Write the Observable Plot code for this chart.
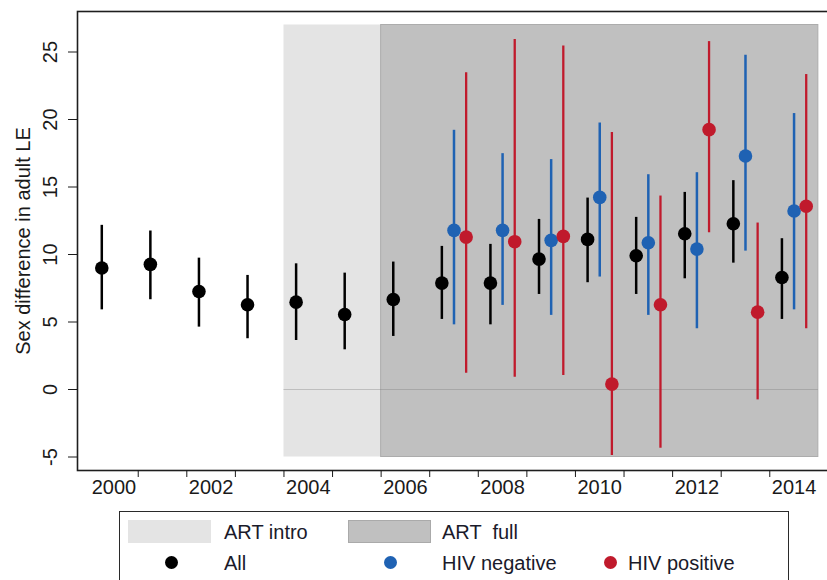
<!DOCTYPE html>
<html>
<head>
<meta charset="utf-8">
<script src="https://cdn.jsdelivr.net/npm/d3@7"></script>
<script src="https://cdn.jsdelivr.net/npm/@observablehq/plot@0.6"></script>
<style>
  html, body { margin: 0; padding: 0; background: #fff; }
  body { width: 827px; height: 580px; overflow: hidden; font-family: "Liberation Sans", Arial, sans-serif; }
  #chart svg { display: block; }
  #legend { position: relative; margin-left: 119px; margin-top: 11px; width: 670px; height: 90px;
            border: 1.5px solid #2a2a2a; box-sizing: border-box; background: #fff; }
  #legend .sw { position: absolute; top: 8px; width: 83px; height: 23px; }
  #legend .lab { position: absolute; font-size: 20px; color: #1a1a2a; white-space: pre; line-height: 20px; }
  #legend .dot { position: absolute; width: 13px; height: 13px; border-radius: 50%; }
</style>
</head>
<body>
<div id="chart"></div>
<div id="legend"></div>
<script>
// ---- data ----
const years = [2000, 2001, 2002, 2003, 2004, 2005, 2006, 2007, 2008, 2009, 2010, 2011, 2012, 2013, 2014];
const allEst = [9.0, 9.27, 7.26, 6.28, 6.47, 5.56, 6.67, 7.88, 7.88, 9.66, 11.12, 9.91, 11.54, 12.28, 8.3];
const allLo  = [5.9, 6.65, 4.62, 3.76, 3.63, 2.94, 3.93, 5.19, 4.79, 7.04, 7.91, 7.04, 8.2, 9.36, 5.19];
const allHi  = [12.16, 11.74, 9.73, 8.45, 9.31, 8.62, 9.44, 10.6, 10.75, 12.6, 14.18, 12.75, 14.6, 15.47, 11.17];

const hivYears = [2007, 2008, 2009, 2010, 2011, 2012, 2013, 2014];
const negEst = [11.79, 11.79, 11.05, 14.23, 10.87, 10.4, 17.3, 13.22];
const negLo  = [4.79, 6.23, 5.49, 8.33, 5.49, 4.5, 10.25, 5.9];
const negHi  = [19.2, 17.47, 17.03, 19.74, 15.91, 16.06, 24.76, 20.44];
const posEst = [11.29, 10.95, 11.34, 0.4, 6.28, 19.25, 5.73, 13.57];
const posLo  = [1.21, 0.91, 1.04, -4.89, -4.35, 11.61, -0.77, 4.5];
const posHi  = [23.47, 25.92, 25.45, 19.03, 14.33, 25.77, 12.33, 23.33];

const phaseLabels = ["ART intro", "ART full"];
const phaseStart = [2003.5, 2005.5];
const phaseEnd = [2005.5, 2014.5];
const phaseBottom = -5;
const phaseTop = 27;

const yTicks = [-5, 0, 5, 10, 15, 20, 25];
const xLabelYears = [2000, 2002, 2004, 2006, 2008, 2010, 2012, 2014];
const xTickPositions = [2000.5, 2001.5, 2002.5, 2003.5, 2004.5, 2005.5, 2006.5, 2007.5, 2008.5, 2009.5, 2010.5, 2011.5, 2012.5, 2013.5];

const seriesNames = ["All", "HIV negative", "HIV positive"];
const seriesColors = ["#000000", "#1f62b3", "#c01a2c"];
const seriesShift = [-0.25, 0, 0.25];

// ---- build tables ----
const phases = phaseLabels.map((label, i) => ({label, x1: phaseStart[i], x2: phaseEnd[i], y1: phaseBottom, y2: phaseTop}));
const allRows = years.map((yr, i) => ({series: "All", year: yr, est: allEst[i], lo: allLo[i], hi: allHi[i]}));
const negRows = hivYears.map((yr, i) => ({series: "HIV negative", year: yr, est: negEst[i], lo: negLo[i], hi: negHi[i]}));
const posRows = hivYears.map((yr, i) => ({series: "HIV positive", year: yr, est: posEst[i], lo: posLo[i], hi: posHi[i]}));
const groups = [allRows, negRows, posRows];

const font = "'Liberation Sans', Arial, sans-serif";

const marks = [
  Plot.rect(phases.slice(0, 1), {x1: "x1", x2: "x2", y1: "y1", y2: "y2", fill: "#e4e4e4"}),
  Plot.rect(phases.slice(1), {x1: "x1", x2: "x2", y1: "y1", y2: "y2", fill: "#c0c0c0", stroke: "#acacac", strokeWidth: 1}),
  Plot.ruleY([0], {x1: phaseStart[0], x2: phaseEnd[1], stroke: "#777", strokeOpacity: 0.35, strokeWidth: 1}),
  Plot.frame({stroke: "#1e1e1e", strokeWidth: 1.6}),
  Plot.axisY({ticks: yTicks, tickSize: 9, tickRotate: -90, tickPadding: 12, fontSize: 20, tickFormat: d => String(d),
              label: "Sex difference in adult LE", labelAnchor: "center", labelArrow: "none", labelOffset: 62}),
  Plot.axisX({ticks: xTickPositions, tickSize: 7, tickFormat: () => "", label: null}),
  Plot.axisX({ticks: xLabelYears, tickSize: 0, tickPadding: 9, tickFormat: d => String(d), fontSize: 20, label: null})
];

groups.forEach((rows, gi) => {
  const color = seriesColors[gi];
  const shift = seriesShift[gi];
  marks.push(Plot.ruleX(rows, {x: d => d.year + shift, y1: "lo", y2: "hi", stroke: color, strokeWidth: gi === 2 ? 2.3 : 2.5}));
  marks.push(Plot.dot(rows, {x: d => d.year + shift, y: "est", fill: color, r: 6.8}));
});

const chart = Plot.plot({
  width: 827,
  height: 500,
  marginLeft: 77,
  marginRight: -3,
  marginTop: 11,
  marginBottom: 30,
  style: {fontFamily: font, fontSize: "20px", color: "#1a1a1a", background: "#fff", overflow: "visible"},
  x: {domain: [1999.25, 2014.75]},
  y: {domain: [-6, 28]},
  marks
});
document.getElementById("chart").appendChild(chart);

// ---- legend ----
const legend = document.getElementById("legend");
function add(html) { legend.insertAdjacentHTML("beforeend", html); }
add(`<div class="sw" style="left:8px;background:#e4e4e4"></div>`);
add(`<div class="lab" style="left:104px;top:10px">${phaseLabels[0]}</div>`);
add(`<div class="sw" style="left:228px;background:#c0c0c0;border:1px solid #aaa;box-sizing:border-box"></div>`);
add(`<div class="lab" style="left:322px;top:10px">ART  full</div>`);
const dotLeft = [45, 264, 484];
const labLeft = [104, 322, 508];
seriesNames.forEach((name, i) => {
  add(`<div class="dot" style="left:${dotLeft[i]}px;top:44px;background:${seriesColors[i]}"></div>`);
  add(`<div class="lab" style="left:${labLeft[i]}px;top:41px">${name}</div>`);
});
</script>
</body>
</html>
